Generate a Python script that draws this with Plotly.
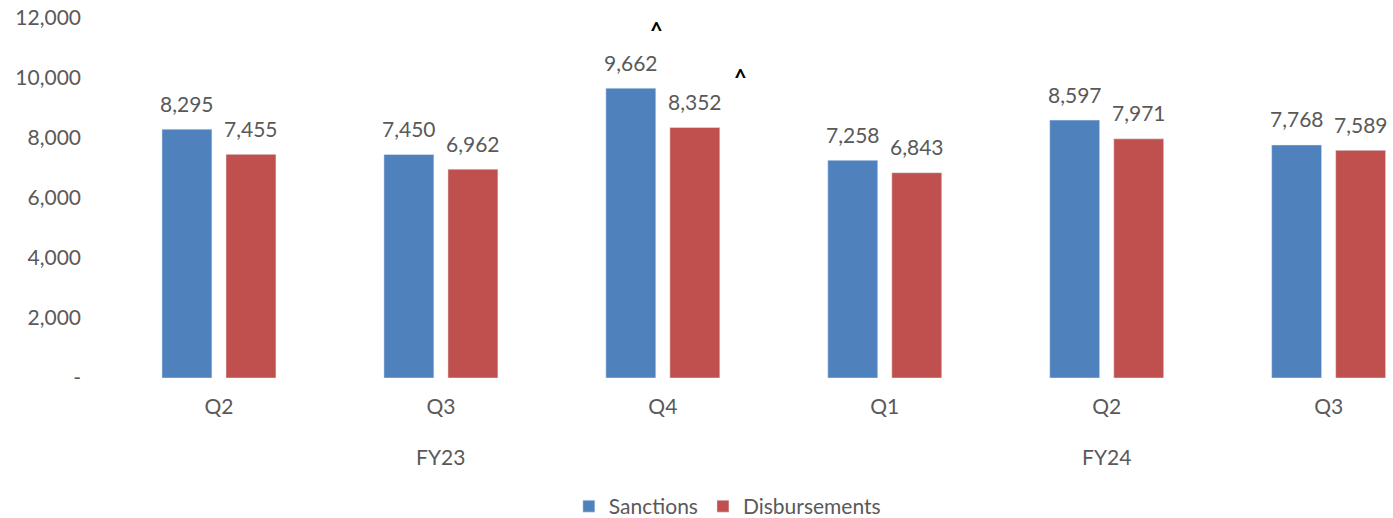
import plotly.graph_objects as go

quarters = ["Q2", "Q3", "Q4", "Q1", "Q2", "Q3"]
fiscal_years = ["FY23", "FY24"]
fy_center_idx = [1, 4]
sanctions = [8295, 7450, 9662, 7258, 8597, 7768]
disbursements = [7455, 6962, 8352, 6843, 7971, 7589]
y_ticks = [0, 2000, 4000, 6000, 8000, 10000, 12000]
y_ticktext = ["-", "2,000", "4,000", "6,000", "8,000", "10,000", "12,000"]

FONT = "Lato, Open Sans, sans-serif"
GREY = "#595959"
xs = list(range(len(quarters)))

fig = go.Figure()
fig.add_trace(go.Bar(x=xs, y=sanctions, name="Sanctions", marker_color="#4F81BD"))
fig.add_trace(go.Bar(x=xs, y=disbursements, name="Disbursements", marker_color="#C0504D"))

# data labels
for series, dx in ((sanctions, -32), (disbursements, 32)):
    for x, v in zip(xs, series):
        fig.add_annotation(x=x, y=v, xref="x", yref="y", text=f"{v:,}", showarrow=False,
                           xshift=dx, yshift=26, yanchor="middle",
                           font=dict(size=21, color=GREY, family=FONT))

for fy, idx in zip(fiscal_years, fy_center_idx):
    fig.add_annotation(x=idx, y=0, xref="x", yref="y", text=fy, showarrow=False,
                       yshift=-78, font=dict(size=21, color=GREY, family=FONT))

# caret markers on Q4 FY23
fig.add_annotation(x=2, y=sanctions[2], xref="x", yref="y", text="<b>^</b>", showarrow=False,
                   xshift=-6, yshift=58, font=dict(size=22, color="black", family=FONT))
fig.add_annotation(x=2, y=disbursements[2], xref="x", yref="y", text="<b>^</b>", showarrow=False,
                   xshift=78, yshift=50, font=dict(size=22, color="black", family=FONT))

fig.update_layout(
    width=1393, height=518,
    margin=dict(l=108, r=0, t=18, b=140, autoexpand=False),
    plot_bgcolor="white", paper_bgcolor="white",
    barmode="group", bargap=0.423, bargroupgap=0.22,
    font=dict(family=FONT, size=21, color=GREY),
    showlegend=True,
    legend=dict(orientation="h", x=0.482, xanchor="center", y=-0.3, yanchor="top",
                font=dict(size=21, color=GREY), traceorder="normal"),
    xaxis=dict(tickmode="array", tickvals=xs, ticktext=quarters, range=[-0.5, 5.29],
               showgrid=False, zeroline=False, showline=False, ticks="",
               ticklabelstandoff=14, tickfont=dict(size=21, color=GREY)),
    yaxis=dict(range=[0, 12000], tickvals=y_ticks, ticktext=y_ticktext,
               showgrid=False, zeroline=False, showline=False, ticks="",
               ticklabeloverflow="allow",
               ticklabelstandoff=26, tickfont=dict(size=21, color=GREY)),
)

fig.write_html("out.html", config={"displayModeBar": False},
               post_script="document.body.style.margin='0';document.body.style.overflow='hidden';")
